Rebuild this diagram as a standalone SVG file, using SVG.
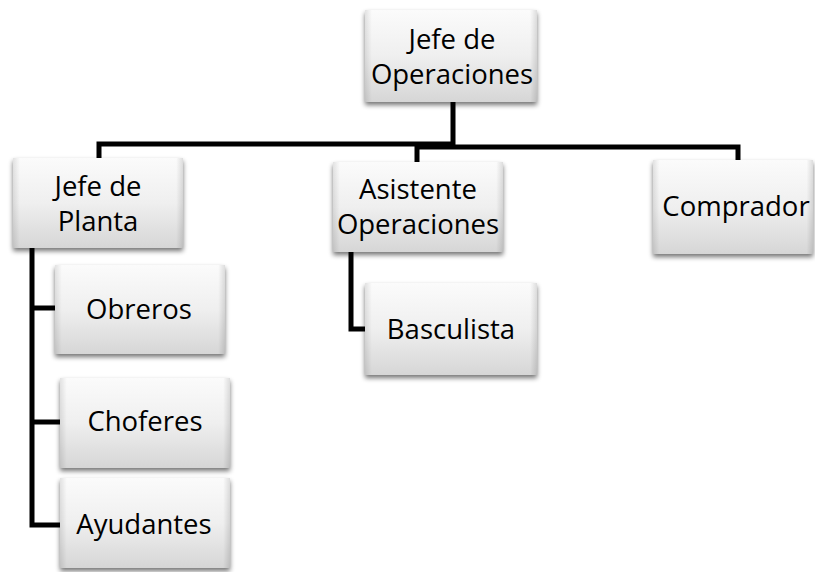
<svg xmlns="http://www.w3.org/2000/svg" width="815" height="572" viewBox="0 0 815 572">
<defs>
<linearGradient id="g" x1="0" y1="0" x2="0" y2="1">
<stop offset="0" stop-color="#fbfbfb"/>
<stop offset="0.5" stop-color="#efefef"/>
<stop offset="1" stop-color="#d6d6d6"/>
</linearGradient>
<linearGradient id="side" x1="0" y1="0" x2="1" y2="0">
<stop offset="0" stop-color="#000" stop-opacity="0.10"/>
<stop offset="0.04" stop-color="#000" stop-opacity="0"/>
<stop offset="0.96" stop-color="#000" stop-opacity="0"/>
<stop offset="1" stop-color="#000" stop-opacity="0.12"/>
</linearGradient>
<filter id="sh" x="-10%" y="-10%" width="120%" height="130%">
<feGaussianBlur in="SourceAlpha" stdDeviation="2.5"/>
<feOffset dx="0" dy="3" result="b"/>
<feComponentTransfer><feFuncA type="linear" slope="0.55"/></feComponentTransfer>
<feMerge><feMergeNode/><feMergeNode in="SourceGraphic"/></feMerge>
</filter>
</defs>
<style>
.box{fill:url(#g);filter:url(#sh);}
.edge{fill:url(#side);}
.t{font-family:"Open Sans","Noto Sans",sans-serif;font-size:27.5px;fill:#000;text-anchor:middle;}
.c{fill:none;stroke:#000;stroke-width:5;stroke-linejoin:miter;}
</style>
<g id="connectors">
<path class="c" d="M99,160 V144 H453 V102"/>
<path class="c" d="M417,162 V147 H738 V160"/>
<path class="c" d="M32,248 V525 H60"/>
<path class="c" d="M32,308 H55"/>
<path class="c" d="M32,422 H60"/>
<path class="c" d="M351,252 V329 H365"/>
</g>
<g id="jefe-operaciones">
<rect class="box" x="365" y="10" width="172" height="92"/>
<rect class="edge" x="365" y="10" width="172" height="92"/>
<text class="t" x="452" y="49">Jefe de</text>
<text class="t" x="452" y="84">Operaciones</text>
</g>
<g id="jefe-planta">
<rect class="box" x="13" y="158" width="170" height="90"/>
<rect class="edge" x="13" y="158" width="170" height="90"/>
<text class="t" x="98" y="196">Jefe de</text>
<text class="t" x="98" y="231">Planta</text>
</g>
<g id="asistente">
<rect class="box" x="333" y="162" width="170" height="90"/>
<rect class="edge" x="333" y="162" width="170" height="90"/>
<text class="t" x="418" y="199">Asistente</text>
<text class="t" x="418" y="234">Operaciones</text>
</g>
<g id="comprador">
<rect class="box" x="653" y="160" width="160" height="94"/>
<rect class="edge" x="653" y="160" width="160" height="94"/>
<text class="t" x="736" y="216">Comprador</text>
</g>
<g id="obreros">
<rect class="box" x="55" y="265" width="170" height="89"/>
<rect class="edge" x="55" y="265" width="170" height="89"/>
<text class="t" x="139" y="319">Obreros</text>
</g>
<g id="choferes">
<rect class="box" x="60" y="378" width="170" height="90"/>
<rect class="edge" x="60" y="378" width="170" height="90"/>
<text class="t" x="145" y="431">Choferes</text>
</g>
<g id="ayudantes">
<rect class="box" x="60" y="478" width="170" height="90"/>
<rect class="edge" x="60" y="478" width="170" height="90"/>
<text class="t" x="144" y="534">Ayudantes</text>
</g>
<g id="basculista">
<rect class="box" x="365" y="283" width="172" height="92"/>
<rect class="edge" x="365" y="283" width="172" height="92"/>
<text class="t" x="451" y="339">Basculista</text>
</g>
</svg>
